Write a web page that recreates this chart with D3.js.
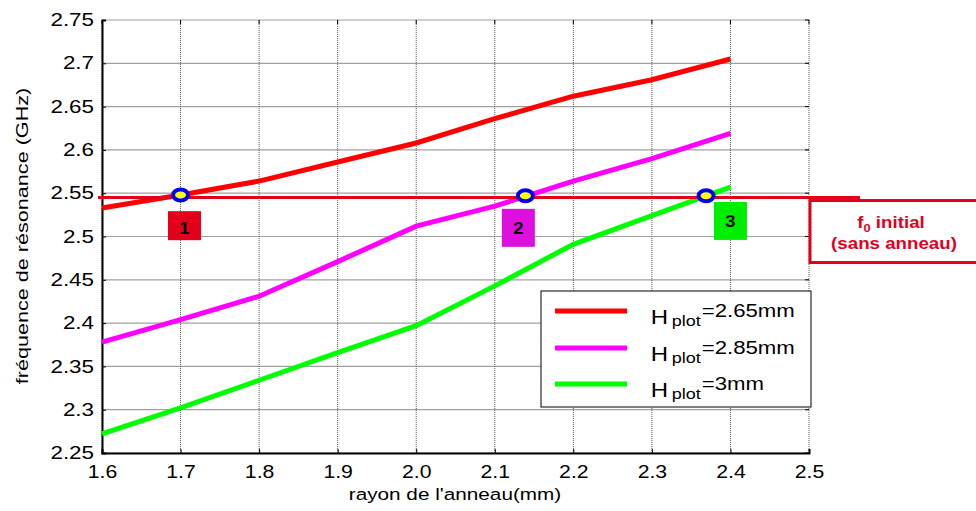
<!DOCTYPE html>
<html><head><meta charset="utf-8">
<script src="https://cdn.jsdelivr.net/npm/d3@7"></script>
<style>body{margin:0;background:#fff}svg{display:block;font-family:"Liberation Sans",Arial,sans-serif}</style>
</head><body>
<svg id="c" width="976" height="511"></svg>
<script>
const radius = [1.6,1.7,1.8,1.9,2.0,2.1,2.2,2.3,2.4];
const freqH265 = [2.533,2.548,2.564,2.586,2.608,2.636,2.662,2.681,2.705];
const freqH285 = [2.378,2.404,2.431,2.471,2.512,2.535,2.564,2.590,2.619];
const freqH3   = [2.272,2.302,2.334,2.366,2.397,2.443,2.491,2.524,2.557];
const seriesNames = ["2.65mm","2.85mm","3mm"];
const seriesColors = ["#ff0000","#ff00ff","#00ff00"];
const xTicks = [1.6,1.7,1.8,1.9,2.0,2.1,2.2,2.3,2.4,2.5];
const yTicks = [2.25,2.3,2.35,2.4,2.45,2.5,2.55,2.6,2.65,2.7,2.75];
const f0 = 2.545;
const crossX = [1.7,2.139,2.369];
const crossY = [2.548,2.547,2.547];
const labelText = ["1","2","3"];
const labelX = [1.705,2.13,2.4];
const labelY = [2.5125,2.510,2.518];
const labelColors = ["#e2001a","#dd10dd","#00ee00"];

const svg = d3.select("#c");
const x = d3.scaleLinear().domain([1.6,2.5]).range([102,809]);
const y = d3.scaleLinear().domain([2.25,2.75]).range([453,20]);

// grid
const g = svg.append("g");
g.selectAll("line.h").data(yTicks).join("line")
  .attr("x1",x(1.6)).attr("x2",x(2.5)).attr("y1",d=>y(d)).attr("y2",d=>y(d))
  .attr("stroke","#a0a0a0").attr("stroke-width",1.2);
g.selectAll("line.v").data(xTicks).join("line")
  .attr("y1",y(2.25)).attr("y2",y(2.75)).attr("x1",d=>x(d)).attr("x2",d=>x(d))
  .attr("stroke","#555").attr("stroke-width",1).attr("stroke-dasharray","1,1");

// axes
const xAxis = d3.axisBottom(x).tickValues(xTicks).tickSize(-4).tickFormat(d3.format(".1f")).tickPadding(12);
const gx = svg.append("g").attr("transform",`translate(0,${y(2.25)})`).call(xAxis);
gx.select(".domain").attr("stroke","#000").attr("stroke-width",2);
gx.selectAll("text").attr("font-size",18).attr("fill","#000").attr("font-family","Liberation Sans, Arial")
  .attr("transform","scale(1.18,1)");
const yAxis = d3.axisLeft(y).tickValues(yTicks).tickSize(-4).tickFormat(d=>d3.format("")(+d.toFixed(2))).tickPadding(9);
const gy = svg.append("g").attr("transform",`translate(${x(1.6)},0)`).call(yAxis);
gy.select(".domain").attr("stroke","#000").attr("stroke-width",2);
gy.selectAll("text").attr("font-size",17.5).attr("fill","#000").attr("font-family","Liberation Sans, Arial")
  .attr("x",-8/1.28).attr("transform","scale(1.28,1)");
// right & top ticks
svg.append("g").selectAll("line").data(yTicks).join("line")
  .attr("x1",x(2.5)).attr("x2",x(2.5)-4).attr("y1",d=>y(d)).attr("y2",d=>y(d)).attr("stroke","#000");
svg.append("g").selectAll("line").data(xTicks).join("line")
  .attr("y1",y(2.75)).attr("y2",y(2.75)+4).attr("x1",d=>x(d)).attr("x2",d=>x(d)).attr("stroke","#000");

// series
const allSeries = [freqH265,freqH285,freqH3];
const line = d3.line().x((d,i)=>x(radius[i])).y(d=>y(d));
allSeries.forEach((s,k)=>{
  svg.append("path").datum(s).attr("d",line).attr("fill","none")
    .attr("stroke",seriesColors[k]).attr("stroke-width",5);
});

// f0 line with shadow
const defs = svg.append("defs");
const f = defs.append("filter").attr("id","sh").attr("x","-10%").attr("y","-300%").attr("width","120%").attr("height","700%");
f.append("feGaussianBlur").attr("in","SourceAlpha").attr("stdDeviation",2.5);
svg.append("line").attr("x1",98).attr("x2",860).attr("y1",y(f0)+4).attr("y2",y(f0)+4)
  .attr("stroke","#888").attr("stroke-width",4).attr("opacity",0.5).attr("filter","url(#sh)");
svg.append("line").attr("x1",98).attr("x2",860).attr("y1",y(f0)).attr("y2",y(f0))
  .attr("stroke","#e2001a").attr("stroke-width",3);

// f0 box
svg.append("rect").attr("x",810).attr("y",y(f0)+3).attr("width",170).attr("height",62)
  .attr("fill","#fff").attr("stroke","#e2001a").attr("stroke-width",3);
const ft = svg.append("text").attr("transform",`translate(891,${y(f0)+30}) scale(1.17,1)`).attr("text-anchor","middle")
  .attr("font-size",16).attr("font-weight","bold").attr("fill","#e2001a");
ft.append("tspan").text("f");
ft.append("tspan").text("0").attr("font-size",11).attr("dy",4);
ft.append("tspan").text(" initial").attr("dy",-4);
svg.append("text").attr("transform",`translate(894,${y(f0)+51}) scale(1.17,1)`).attr("text-anchor","middle")
  .attr("font-size",16).attr("font-weight","bold").attr("fill","#e2001a").text("(sans anneau)");

// label boxes
const lh = [29,38,38];
labelText.forEach((t,i)=>{
  const cx = x(labelX[i]), cy = y(labelY[i]);
  svg.append("rect").attr("x",cx-16.5).attr("y",cy-lh[i]/2).attr("width",33).attr("height",lh[i]).attr("fill",labelColors[i]);
  svg.append("text").attr("transform",`translate(${cx},${cy+(i===0?8:6)}) scale(1.15,1)`).attr("text-anchor","middle")
    .attr("font-size",16).attr("font-weight","bold").attr("fill","#000").text(t);
});

// markers
crossX.forEach((cxv,i)=>{
  svg.append("ellipse").attr("cx",x(cxv)).attr("cy",y(crossY[i])).attr("rx",7.5).attr("ry",5.5)
    .attr("fill","#ffff00").attr("stroke","#0000ee").attr("stroke-width",4);
});

// legend
const lg = svg.append("g");
lg.append("rect").attr("x",541).attr("y",291).attr("width",270).attr("height",116)
  .attr("fill","#fff").attr("stroke","#000").attr("stroke-width",1);
const rows = [311,348,384];
seriesNames.forEach((n,i)=>{
  lg.append("line").attr("x1",555).attr("x2",627).attr("y1",rows[i]).attr("y2",rows[i])
    .attr("stroke",seriesColors[i]).attr("stroke-width",5);
  const t = lg.append("text").attr("transform","translate(650.7,0) scale(1.2,1)").attr("fill","#000");
  t.append("tspan").text("H").attr("font-size",20).attr("x",0).attr("y",rows[i]+13);
  t.append("tspan").text("plot").attr("font-size",15).attr("x",17.5).attr("y",rows[i]+15);
  t.append("tspan").text("="+n).attr("font-size",18.5).attr("x",42.5).attr("y",rows[i]+6);
});

// axis titles
svg.append("text").attr("transform","translate(455,500) scale(1.22,1)").attr("text-anchor","middle").attr("font-size",17).text("rayon de l'anneau(mm)");
svg.append("text").attr("transform","translate(28,236) rotate(-90) scale(1.35,1)").attr("text-anchor","middle").attr("font-size",16).text("fréquence de résonance (GHz)");
</script>
</body></html>
